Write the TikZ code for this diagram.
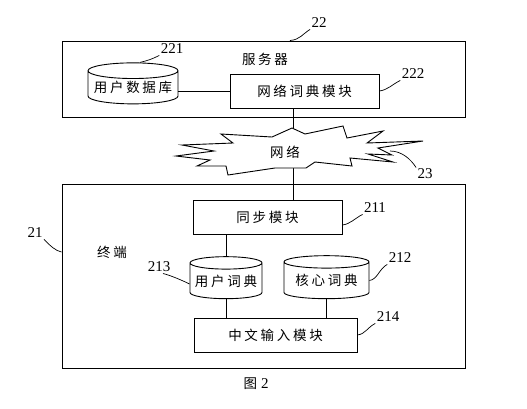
\documentclass[tikz,border=0pt]{standalone}
\usepackage{fontspec}
\setmainfont{Liberation Serif}
\newfontfamily\cjk[LetterSpace=20]{Noto Sans CJK SC}
\usetikzlibrary{shapes.geometric}
\newlength{\du}
\setlength{\du}{1pt}

\begin{document}
\begin{tikzpicture}[x=1\du, y=-1\du, line width=0.9\du,
  hanzi/.style={font=\cjk\fontsize{13.5}{15}\selectfont},
  frame/.style={draw, inner sep=0pt},
  modbox/.style={draw, hanzi, inner sep=0pt, minimum height=34\du},
  dbase/.style={draw, hanzi, cylinder, shape border rotate=90, aspect=0.2, inner sep=0pt},
  num/.style={font=\fontsize{15}{17}\selectfont, inner sep=1pt},
  lead/.style={line width=0.7\du}]
\useasboundingbox (0,0) rectangle (527,408);

% server side
\node[frame, minimum width=403\du, minimum height=76\du] (s22) at (263.5,79) {};
\node[hanzi] (srvname) at (265,59) {服务器};
\node[modbox, minimum width=149\du] (m222) at (304.5,91) {网络词典模块};
\node[dbase, minimum width=90\du, minimum height=41\du] (db221) at (133,87.5) {用户数据库};
\draw (m222.west) -- (m222.west -| db221.east);

% terminal side
\node[frame, minimum width=403\du, minimum height=184\du] (t21) at (263.5,276) {};
\node[hanzi] (tname) at (112,252) {终端};
\node[modbox, minimum width=149\du] (sync) at (267.5,217) {同步模块};
\node[dbase, minimum width=72\du, minimum height=42\du] (u213) at (226,281) {用户词典};
\node[dbase, minimum width=85\du, minimum height=43\du] (k212) at (326.5,280.5) {核心词典};
\node[modbox, minimum width=163\du] (ime) at (275.5,335) {中文输入模块};
\draw (u213.north) -- (u213.north |- sync.south);
\draw (u213.south) -- (u213.south |- ime.north);
\draw (k212.south) -- (k212.south |- ime.north);

% network
\coordinate (lnk) at (293,0);
\draw (m222.south -| lnk) -- (sync.north -| lnk);
\draw[fill=white] (221,134) -- (272,137) -- (292,128) -- (305,134) -- (343,126) -- (347,138)
  -- (383,131) -- (367,143) -- (423,141) -- (378,148) -- (392,155) -- (368,154)
  -- (393,162) -- (350,158) -- (352,166) -- (315,162) -- (306,168) -- (275,168)
  -- (228,175) -- (226,166) -- (197,166) -- (210,160) -- (176,156) -- (214,151)
  -- (182,145) -- (233,143) -- cycle;
\node[hanzi] (net) at (285,152) {网络};
\coordinate (c23) at (390,151);

% reference numbers
\node[num] (n22) at (319,23) {22};
\node[num] (n221) at (172,49) {221};
\node[num] (n222) at (413,74) {222};
\node[num] (n23) at (425,174) {23};
\node[num] (n21) at (35,233) {21};
\node[num] (n211) at (375,208) {211};
\node[num] (n213) at (159,267) {213};
\node[num] (n212) at (400,258) {212};
\node[num] (n214) at (388,317) {214};

\draw[lead] ([xshift=26.5\du]s22.north) .. controls +(10,-1) and +(-8,5) .. (n22.south west);
\draw[lead] ([xshift=7\du]db221.north) .. controls +(8,-2) and +(-8,4) .. (n221.south west);
\draw[lead] (m222.east) .. controls +(8,-1) and +(-8,4) .. (n222.south west);
\draw[lead] (c23) .. controls +(12,0) and +(-5,-8) .. (n23.north west);
\draw[lead] (n21.south east) .. controls +(6,6) and +(-6,-1) .. ([yshift=24\du]t21.west);
\draw[lead] ([yshift=-8\du]sync.east) .. controls +(8,-1) and +(-8,4) .. (n211.south west);
\draw[lead] ([xshift=4\du]n213.south) .. controls +(8,2) and +(-6,-3) .. ([yshift=-3\du]u213.west);
\draw[lead] (k212.east) .. controls +(8,-1) and +(-8,4) .. (n212.south west);
\draw[lead] (ime.east) .. controls +(8,-1) and +(-8,4) .. (n214.south west);

\node (fig) at (256,384) {{\cjk\fontsize{13.5}{15}\selectfont 图}\hspace{4\du}{\fontsize{15}{17}\selectfont 2}};
\end{tikzpicture}
\end{document}
